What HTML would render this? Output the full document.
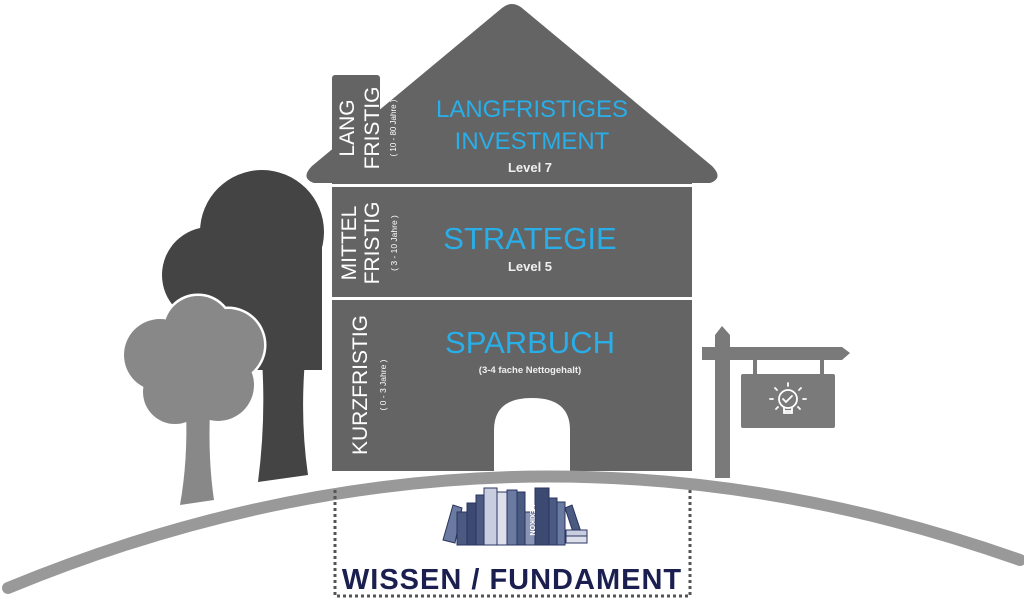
<!DOCTYPE html>
<html><head><meta charset="utf-8"><style>
html,body{margin:0;padding:0;background:#fff;}
svg{display:block;}
text{font-family:"Liberation Sans",sans-serif;}
</style></head><body>
<svg width="1024" height="609" viewBox="0 0 1024 609" xmlns="http://www.w3.org/2000/svg">
<!-- dark tree -->
<g fill="#444">
<circle cx="262" cy="232" r="62"/>
<circle cx="210" cy="275" r="48"/>
<rect x="200" y="230" width="122" height="140"/>
<path d="M262 360 L305 360 Q300 420 308 475 L258 482 Q266 420 262 360Z"/>
</g>
<!-- light tree -->
<g fill="#888" stroke="#fff" stroke-width="5">
<circle cx="198" cy="330" r="34"/>
<circle cx="228" cy="345" r="36"/>
<circle cx="160" cy="355" r="36"/>
<circle cx="218" cy="385" r="36"/>
<circle cx="175" cy="392" r="32"/>
</g>
<g fill="#888">
<circle cx="198" cy="330" r="34"/>
<circle cx="228" cy="345" r="36"/>
<circle cx="160" cy="355" r="36"/>
<circle cx="218" cy="385" r="36"/>
<circle cx="175" cy="392" r="32"/>
<circle cx="195" cy="365" r="35"/>
<path d="M186 410 L210 410 Q208 460 214 500 L180 505 Q188 460 186 410Z"/>
</g>
<!-- signpost -->
<g fill="#7a7a7a">
<path d="M715 478 L715 335 L722 326 L730 335 L730 478Z"/>
<path d="M702 347 L842 347 L850 353 L842 360 L702 360Z"/>
<rect x="753" y="360" width="4" height="15"/>
<rect x="820" y="360" width="4" height="15"/>
<rect x="741" y="374" width="94" height="54" rx="2"/>
</g>
<g stroke="#fff" stroke-width="1.8" fill="none" stroke-linecap="round">
<circle cx="788" cy="399" r="9"/>
<path d="M783 399 l3 3 l6 -6"/>
<path d="M784 408 v5 h8 v-5 M784 411 h8"/>
<path d="M788 383 v3 M775 388 l2 2 M801 388 l-2 2 M770 399 h3 M803 399 h3 M776 409 l2 -2 M800 409 l-2 -2"/>
</g>
<!-- house -->
<g fill="#646464">
<path d="M502 8 Q512 0 522 8 L712 166 Q724 178 710 183 L314 183 Q300 178 312 166 Z"/>
<rect x="332" y="75" width="48" height="110" rx="3"/>
<rect x="332" y="183" width="360" height="288"/>
</g>
<rect x="332" y="184" width="360" height="3" fill="#fff"/>
<rect x="332" y="297" width="360" height="3" fill="#fff"/>
<path d="M494 471 L494 430 Q494 398 532 398 Q570 398 570 430 L570 471Z" fill="#fff"/>
<!-- hill -->
<path d="M8 588 Q512 380 1020 560" fill="none" stroke="#999" stroke-width="12" stroke-linecap="round"/>
<!-- dotted box -->
<path d="M335 490 L335 596 L690 596 L690 488" fill="none" stroke="#555" stroke-width="3" stroke-dasharray="3 3"/>
<!-- books -->
<g fill="#4a5a80" stroke="#2a3460" stroke-width="1">
<path d="M443 540 L453 505 L462 508 L455 543Z" fill="#6b7aa0"/>
<rect x="457" y="512" width="10" height="33"/>
<rect x="467" y="503" width="9" height="42" fill="#3c4a72"/>
<rect x="476" y="495" width="8" height="50"/>
<rect x="484" y="488" width="13" height="57" fill="#c8cde0"/>
<rect x="497" y="492" width="10" height="53" fill="#dde0ea"/>
<rect x="507" y="490" width="10" height="55" fill="#6b7aa0"/>
<rect x="517" y="492" width="8" height="53"/>
<rect x="525" y="512" width="10" height="33" fill="#8a95b5"/>
<rect x="535" y="488" width="14" height="57" fill="#3c4a72"/>
<rect x="549" y="498" width="8" height="47"/>
<rect x="557" y="502" width="8" height="43" fill="#6b7aa0"/>
<path d="M565 508 L572 505 L582 535 L575 538Z"/>
<rect x="566" y="530" width="21" height="6" fill="#c8cde0"/>
<rect x="566" y="536" width="21" height="7" fill="#dde0ea"/>
</g>
<text x="542" y="532" font-size="7" fill="#fff" font-weight="bold" transform="rotate(90 542 520)" text-anchor="middle">LEXIKON</text>
<!-- texts -->
<text x="512" y="589" font-size="29" font-weight="bold" fill="#1b1f50" text-anchor="middle" letter-spacing="1">WISSEN / FUNDAMENT</text>
<g fill="#29aee8" text-anchor="middle">
<text x="532" y="117" font-size="24">LANGFRISTIGES</text>
<text x="532" y="149" font-size="24">INVESTMENT</text>
<text x="530" y="249" font-size="31">STRATEGIE</text>
<text x="530" y="353" font-size="31">SPARBUCH</text>
</g>
<g fill="#f0f0f0" text-anchor="middle">
<text x="530" y="172" font-size="13" font-weight="bold">Level 7</text>
<text x="530" y="271" font-size="13" font-weight="bold">Level 5</text>
<text x="530" y="373" font-size="9.5" font-weight="bold">(3-4 fache Nettogehalt)</text>
</g>
<g fill="#fff" text-anchor="middle">
<text transform="translate(354,128) rotate(-90)" font-size="21">LANG</text>
<text transform="translate(379,128) rotate(-90)" font-size="21">FRISTIG</text>
<text transform="translate(396,128) rotate(-90)" font-size="8">( 10 - 80 Jahre )</text>
<text transform="translate(356,243) rotate(-90)" font-size="21">MITTEL</text>
<text transform="translate(379,243) rotate(-90)" font-size="21">FRISTIG</text>
<text transform="translate(397,243) rotate(-90)" font-size="8.5">( 3 - 10 Jahre )</text>
<text transform="translate(367,385) rotate(-90)" font-size="21">KURZFRISTIG</text>
<text transform="translate(386,385) rotate(-90)" font-size="8.5">( 0 - 3 Jahre )</text>
</g>
</svg>
</body></html>
